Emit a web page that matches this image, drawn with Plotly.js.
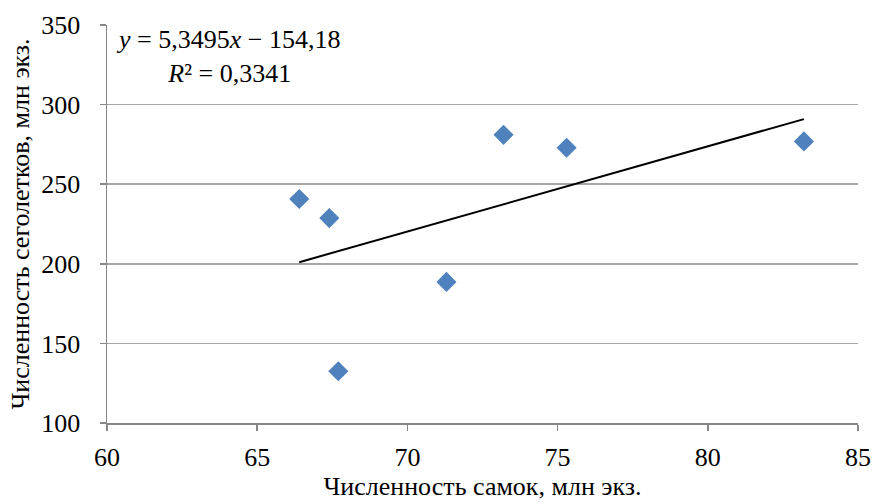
<!DOCTYPE html>
<html>
<head>
<meta charset="utf-8">
<script src="https://cdn.plot.ly/plotly-3.0.1.min.js"></script>
<style>html,body{margin:0;padding:0;background:#fff;}#chart{width:872px;height:504px;}</style>
</head>
<body>
<div id="chart"></div>
<script>
var females = [66.4, 67.4, 67.7, 71.3, 73.2, 75.3, 83.2];
var yearlings = [240.7, 228.7, 132.5, 188.6, 281.0, 272.9, 276.9];
var slope = 5.3495;
var intercept = -154.18;
var r2Label = "0,3341";
var xTickVals = [60, 65, 70, 75, 80, 85];
var yTickVals = [100, 150, 200, 250, 300, 350];

var xMin = Math.min.apply(null, females);
var xMax = Math.max.apply(null, females);
var trendX = [xMin, xMax];
var trendY = trendX.map(function(v){ return slope * v + intercept; });

var font = "'Liberation Serif', 'Times New Roman', serif";

var data = [
  {x: females, y: yearlings, mode: "markers", type: "scatter",
   marker: {symbol: "diamond", size: 15.5, color: "#4f81bd"}, showlegend: false, hoverinfo: "x+y"},
  {x: trendX, y: trendY, mode: "lines", type: "scatter",
   line: {color: "#000", width: 2}, showlegend: false, hoverinfo: "skip"}
];

var layout = {
  width: 872, height: 504,
  margin: {l: 107, r: 14, t: 25, b: 81, pad: 0},
  paper_bgcolor: "#fff", plot_bgcolor: "#fff",
  font: {family: font, size: 26, color: "#000"},
  xaxis: {
    range: [60, 85], tickvals: xTickVals, ticktext: xTickVals.map(String),
    showgrid: false, zeroline: false,
    showline: true, linecolor: "#878787", linewidth: 1.5,
    ticks: "outside", ticklen: 6, tickwidth: 1.5, tickcolor: "#878787",
    ticklabelstandoff: 4,
    tickfont: {family: font, size: 26, color: "#000"},
    title: {text: "Численность самок, млн экз.", font: {family: font, size: 26, color: "#000"}, standoff: 6}
  },
  yaxis: {
    range: [100, 350], tickvals: yTickVals, ticktext: yTickVals.map(String),
    showgrid: true, gridcolor: "#a6a6a6", gridwidth: 1.5, zeroline: false,
    showline: true, linecolor: "#878787", linewidth: 1.5,
    ticks: "outside", ticklen: 6, tickwidth: 1.5, tickcolor: "#878787",
    ticklabelstandoff: 14,
    tickfont: {family: font, size: 26, color: "#000"},
    title: {text: "Численность сеголетков, млн экз.", font: {family: font, size: 26, color: "#000"}, standoff: 4}
  },
  annotations: [{
    xref: "paper", yref: "paper", x: (228 - 107) / (872 - 107 - 14), y: 1, yshift: 2,
    xanchor: "center", yanchor: "top", align: "center", showarrow: false,
    text: "<i>y</i> = " + String(slope).replace(".", ",") + "<i>x</i> − " + String(-intercept).replace(".", ",") +
          "<br><i>R</i>² = " + r2Label,
    font: {family: font, size: 26, color: "#000"}
  }]
};

Plotly.newPlot("chart", data, layout, {displayModeBar: false, staticPlot: true});
</script>
</body>
</html>
